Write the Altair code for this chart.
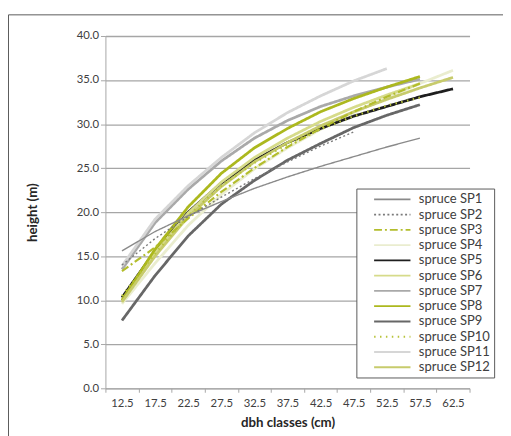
import altair as alt
import pandas as pd

dbh = [12.5, 17.5, 22.5, 27.5, 32.5, 37.5, 42.5, 47.5, 52.5, 57.5, 62.5]
names = [f"spruce SP{i}" for i in range(1, 13)]

sp1 = [15.6, 17.8, 19.6, 21.2, 22.7, 24.0, 25.2, 26.3, 27.4, 28.4]
sp2 = [14.0, 17.0, 19.5, 21.7, 23.8, 25.7, 27.5, 29.1]
sp3 = [13.3, 16.0, 19.3, 22.3, 25.0, 27.4, 29.5, 31.4, 33.1, 34.6]
sp4 = [9.6, 14.2, 18.5, 22.0, 24.9, 27.3, 29.4, 31.3, 33.0, 34.6, 36.1]
sp5 = [10.3, 15.6, 20.0, 23.3, 25.9, 27.9, 29.5, 30.9, 32.0, 33.1, 34.0]
sp6 = [10.0, 15.4, 19.9, 23.4, 26.2, 28.4, 30.3, 31.9, 33.3, 34.6]
sp7 = [13.5, 18.8, 22.6, 25.8, 28.4, 30.4, 32.0, 33.2, 34.2, 35.1]
sp8 = [10.0, 15.8, 20.6, 24.4, 27.3, 29.5, 31.4, 32.9, 34.2, 35.4]
sp9 = [7.7, 12.8, 17.3, 20.9, 23.6, 25.9, 27.8, 29.6, 31.0, 32.2]
sp10 = [10.5, 15.3, 19.6, 23.0, 25.6, 27.7, 29.4, 30.9, 32.1, 33.0]
sp11 = [13.9, 19.2, 23.0, 26.2, 29.0, 31.3, 33.2, 34.9, 36.3]
sp12 = [9.8, 15.0, 19.5, 22.9, 25.7, 27.9, 29.8, 31.4, 32.8, 34.1, 35.3]

all_series = [sp1, sp2, sp3, sp4, sp5, sp6, sp7, sp8, sp9, sp10, sp11, sp12]

rows = []
for name, vals in zip(names, all_series):
    for d, v in zip(dbh, vals):
        rows.append({"series": name, "dbh": d, "height": v})
df = pd.DataFrame(rows)

colors = ["#8a8a8a", "#7a7a7a", "#b3bd2c", "#eaedcf", "#1e1e1e", "#d6db8a",
          "#a9a9a9", "#acb81e", "#676767", "#b8c33a", "#d6d6d6", "#c7cb6c"]
dashes = [[1, 0], [2, 2.5], [8, 3, 2, 3], [1, 0], [1, 0], [1, 0],
          [1, 0], [1, 0], [1, 0], [1.5, 4.5], [1, 0], [1, 0]]

FONT = "Lato"

legend = alt.Legend(
    orient="none", legendX=255, legendY=155, title=None,
    symbolType="M-3.08,0H3.08", symbolSize=144, symbolStrokeWidth=2,
    padding=4, symbolOffset=25.5, labelOffset=20, rowPadding=1.5,
    strokeColor="#595959", fillColor="white",
    labelFont=FONT, labelFontSize=13.2, labelColor="#404040",
)

x_enc = alt.X(
    "dbh:O",
    bandPosition=0.5,
    scale=alt.Scale(type="band", paddingInner=0, paddingOuter=0),
    axis=alt.Axis(
        tickBand="extent", labelAngle=0, tickSize=4, labelPadding=5,
        domainColor="#a6a6a6", tickColor="#a6a6a6", grid=False,
        labelFont=FONT, labelFontSize=11.5, labelColor="#404040",
        title="dbh classes (cm)", titleFont=FONT, titleFontSize=13.5,
        titleFontWeight="bold", titleColor="#262626", titleY=28,
        titleBaseline="top",
    ),
)
y_enc = alt.Y(
    "height:Q",
    scale=alt.Scale(domain=[0, 40], nice=False),
    axis=alt.Axis(
        values=[0, 5, 10, 15, 20, 25, 30, 35, 40], format=".1f",
        grid=True, gridColor="#a6a6a6", gridWidth=1.3,
        domainColor="#a6a6a6", tickColor="#a6a6a6", tickSize=5, labelPadding=2,
        labelFont=FONT, labelFontSize=11.5, labelColor="#404040",
        title="height (m)", titleFont=FONT, titleFontSize=13.5,
        titleFontWeight="bold", titleColor="#262626",
        titleX=-74, titleY=179, titleAngle=270, titleAlign="center",
        titleBaseline="middle",
    ),
)
color_enc = alt.Color("series:N", scale=alt.Scale(domain=names, range=colors), legend=legend)
dash_enc = alt.StrokeDash("series:N", scale=alt.Scale(domain=names, range=dashes), legend=legend)


def lines(subset, width):
    return alt.Chart(df).mark_line(strokeWidth=width, strokeCap="butt").encode(
        x=x_enc, y=y_enc, color=color_enc, strokeDash=dash_enc, detail="series:N"
    ).transform_filter(alt.FieldOneOfPredicate(field="series", oneOf=subset))


thin = lines(["spruce SP1", "spruce SP2"], 1.4)
mid = lines(["spruce SP3", "spruce SP10"], 2.2)
thick = lines([n for n in names if n not in
               ("spruce SP1", "spruce SP2", "spruce SP3", "spruce SP10")], 2.8)

frame = alt.Chart(alt.Data(values=[{"a": 1}])).mark_rect(
    fill="transparent", stroke="#595959", strokeWidth=1
).encode(
    x=alt.value(-98.5), x2=alt.value(430), y=alt.value(-21.5), y2=alt.value(520)
)

chart = alt.layer(frame, thick, mid, thin).properties(
    width=370, height=358,
    autosize=alt.AutoSizeParams(type="none"),
    padding={"left": 99, "top": 25, "right": 34, "bottom": 45},
    background="white",
).configure_view(stroke=None)

chart.save("out.html", embed_options={"renderer": "svg", "actions": False})
